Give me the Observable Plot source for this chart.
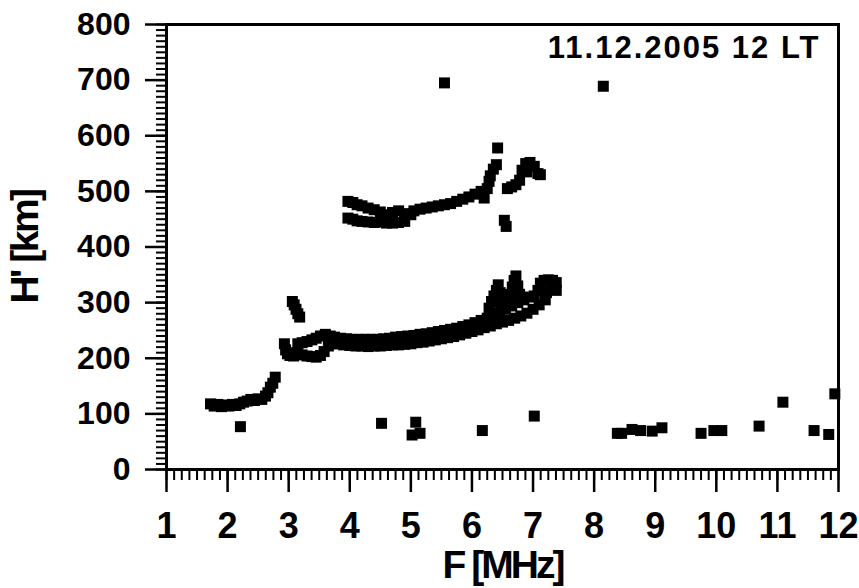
<!DOCTYPE html>
<html>
<head>
<meta charset="utf-8">
<script src="https://cdn.jsdelivr.net/npm/d3@7"></script>
<script src="https://cdn.jsdelivr.net/npm/@observablehq/plot@0.6"></script>
<style>
  html, body { margin: 0; padding: 0; background: #fff; }
</style>
</head>
<body>
<script>
// ---- data (frequency in MHz, virtual height in km) ----
const eTraceF = [1.72,1.78,1.84,1.90,1.96,2.02,2.08,2.14,2.20,2.26,2.32,2.38,2.44,2.50,2.56,2.62,2.66,2.70,2.74,2.78];
const eTraceH = [118,114,117,113,116,114,117,115,118,121,123,126,124,127,126,132,138,148,155,166];

const fLowerF = [2.93,2.95,2.98,3.02,3.08,3.12,
  3.15,3.22,3.3,3.38,3.45,3.52,3.58,3.65,3.72,3.8,3.9,4.0,4.1,4.2,4.3,4.4,4.5,4.6,4.7,4.8,4.9,5.0,5.1,5.2,5.3,5.4,5.5,5.6,5.7,5.8,5.9,6.0,6.1,6.2,6.3,6.4,6.5,6.6,6.7,6.8,6.9,7.0,7.1,7.2,
  3.15,3.22,3.3,3.38,3.45,3.52,3.6,3.68,3.75,3.85,3.95,4.05,4.15,4.25,4.35,4.45,4.55,4.65,4.75,4.85,4.95,5.05,5.15,5.25,5.35,5.45,5.55,5.65,5.75,5.85,5.95,6.05,6.15,6.25,6.35,6.45,6.55,6.65,6.75,6.85,6.95,
  3.06,3.09,3.12,3.15,3.18,
  6.28,6.32,6.36,6.4,6.43,6.46,6.48,
  6.6,6.63,6.66,6.69,6.72,6.75,6.78,
  7.02,7.08,7.12,7.18,7.25,7.32,7.38,7.38,7.3,7.22];
const fLowerH = [226,215,208,205,204,210,
  208,206,204,203,202,205,212,222,226,226,224,223,222,222,221,222,222,223,224,224,225,226,228,229,231,233,235,237,239,242,245,248,251,255,258,262,265,268,272,276,281,288,296,305,
  226,228,230,233,236,240,243,240,238,236,235,234,234,234,234,234,235,236,238,239,240,241,243,244,246,248,250,252,254,257,260,264,268,272,277,282,288,294,300,305,310,
  302,296,288,280,274,
  290,302,312,322,332,318,300,
  300,315,328,340,348,330,315,
  312,322,335,340,341,340,336,322,325,318];

const fUpperF = [3.97,4.05,4.12,4.2,4.3,4.4,4.5,
  3.97,4.05,4.12,4.2,4.3,4.4,4.5,4.6,4.7,4.8,4.9,
  4.6,4.7,4.8,4.9,5.0,5.05,5.15,5.25,5.35,5.45,5.55,5.65,5.75,5.85,5.95,6.05,6.15,6.2,6.25,6.28,6.3,6.35,6.4,6.42,
  6.53,6.56,
  6.58,6.65,6.72,6.78,6.82,6.88,6.95,7.02,7.08,7.12,6.9];
const fUpperH = [482,480,476,474,470,467,463,
  452,450,447,446,445,444,445,443,443,444,446,
  458,462,465,460,458,465,468,470,472,474,476,478,482,486,490,495,500,488,505,518,528,540,548,578,
  448,437,
  505,508,512,520,538,550,552,545,532,530,535];

const scatterF = [2.21,4.52,5.08,5.02,5.15,6.17,7.02,8.38,8.45,8.62,8.76,8.95,9.11,9.75,9.96,10.09,10.70,11.09,11.60,11.84,11.94,5.55,8.15];
const scatterH = [77,83,85,62,65,70,96,65,65,72,70,69,75,65,70,70,78,121,70,63,136,695,689];

const xMajor = d3.range(1, 13, 1);
const xMinor = d3.range(1, 12.0001, 0.125);
const yMajor = d3.range(0, 801, 100);
const yMinor = d3.range(0, 801, 10);
const annotation = "11.12.2005 12 LT";
const xTitle = "F [MHz]";
const yTitle = "H' [km]";

// ---- build table ----
const pts = [];
[[eTraceF, eTraceH], [fLowerF, fLowerH], [fUpperF, fUpperH], [scatterF, scatterH]].forEach(([fs, hs]) => {
  fs.forEach((f, i) => pts.push({f, h: hs[i]}));
});

const font = "'Liberation Sans', Arial, sans-serif";

const chart = Plot.plot({
  width: 859,
  height: 588,
  marginLeft: 166,
  marginRight: 21,
  marginTop: 24,
  marginBottom: 119,
  style: {fontFamily: font, fontWeight: "bold", color: "black", background: "white"},
  x: {domain: [1, 12], label: null},
  y: {domain: [0, 800], label: null},
  marks: [
    Plot.dot(pts, {x: "f", y: "h", symbol: "square", r: 6.2, fill: "black", stroke: "none"}),
    // y ticks
    Plot.axisY({ticks: yMinor, tickSize: 10, strokeWidth: 2, tickFormat: () => "", label: null}),
    Plot.axisY({ticks: yMajor, tickSize: 21, strokeWidth: 2.5, tickFormat: () => "", label: null}),
    Plot.axisY({ticks: yMajor, tickSize: 0, tickPadding: 36, fontSize: 32, fontWeight: "bold", label: null}),
    // x ticks
    Plot.axisX({ticks: xMinor, tickSize: 11, strokeWidth: 2, tickFormat: () => "", label: null}),
    Plot.axisX({ticks: xMajor, tickSize: 23, strokeWidth: 2.5, tickFormat: () => "", label: null}),
    Plot.axisX({ticks: xMajor, tickSize: 0, tickPadding: 43, fontSize: 36, fontWeight: "bold", tickFormat: d3.format("d"), label: null}),
    Plot.frame({stroke: "black", strokeWidth: 3}),
    Plot.text([annotation], {frameAnchor: "top-right", dx: -18, dy: 11, lineAnchor: "top", textAnchor: "end", fontSize: 31, fontWeight: "bold", fill: "black"}),
    Plot.text([xTitle], {frameAnchor: "bottom", dy: 81, lineAnchor: "top", textAnchor: "middle", fontSize: 39, fontWeight: "bold", fill: "black"}),
    Plot.text([yTitle], {frameAnchor: "left", dx: -156, rotate: -90, lineAnchor: "top", textAnchor: "middle", fontSize: 39, fontWeight: "bold", fill: "black"})
  ]
});
document.body.appendChild(chart);

// typographic tweaks (letter spacing) for the text labels
const spacing = {[annotation]: "2px", [xTitle]: "-3px", [yTitle]: "-2.5px"};
d3.select(chart).selectAll("text").each(function () {
  const t = this.textContent;
  if (t in spacing) this.style.letterSpacing = spacing[t];
});
</script>
</body>
</html>
